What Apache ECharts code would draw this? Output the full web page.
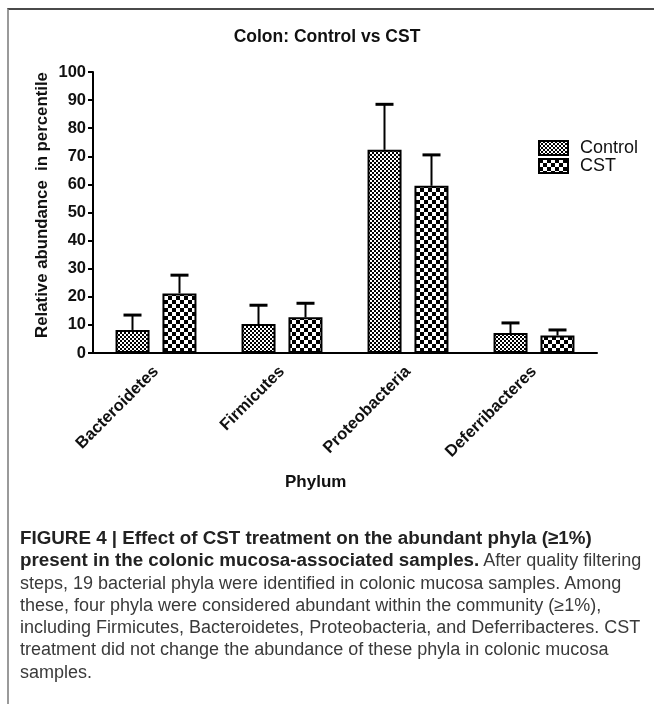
<!DOCTYPE html>
<html>
<head>
<meta charset="utf-8">
<script src="https://cdn.jsdelivr.net/npm/echarts@6/dist/echarts.min.js"></script>
<style>
  html, body { margin: 0; padding: 0; background: #fff; }
  #wrap { position: relative; width: 654px; height: 704px; overflow: hidden; }
  #chart { position: absolute; left: 0; top: 0; width: 654px; height: 704px; }
  #frame { position: absolute; left: 7px; top: 8px; right: 0; bottom: 0;
           border-top: 2px solid #4a4a4a; border-left: 2px solid #9a9a9a; }
  #caption { position: absolute; left: 20px; top: 527px; width: 634px;
             font-family: "Liberation Sans", Arial, sans-serif; font-size: 18px;
             line-height: 22.3px; color: #3a3a3a; white-space: nowrap; }
  #caption b { color: #222; font-size: 18.8px; }
</style>
</head>
<body>
<div id="wrap">
  <div id="frame"></div>
  <div id="chart"></div>
  <div id="caption">
    <b>FIGURE 4 | Effect of CST treatment on the abundant phyla (≥1%)</b><br>
    <b>present in the colonic mucosa-associated samples.</b> After quality filtering<br>
    steps, 19 bacterial phyla were identified in colonic mucosa samples. Among<br>
    these, four phyla were considered abundant within the community (≥1%),<br>
    including Firmicutes, Bacteroidetes, Proteobacteria, and Deferribacteres. CST<br>
    treatment did not change the abundance of these phyla in colonic mucosa<br>
    samples.
  </div>
</div>
<script>
const categories = ['Bacteroidetes', 'Firmicutes', 'Proteobacteria', 'Deferribacteres'];
const controlMean = [8.2, 10.3, 72.3, 7.1];
const controlErr = [5.3, 6.7, 16.2, 3.6];
const cstMean = [21.2, 12.7, 59.5, 6.2];
const cstErr = [6.5, 5.0, 11.0, 2.0];

const font = '"Liberation Sans", Arial, sans-serif';

// checkerboard fills, small squares for Control, bigger for CST
function checker(cell) {
  const c = document.createElement('canvas');
  c.width = cell * 2;
  c.height = cell * 2;
  const ctx = c.getContext('2d');
  ctx.fillStyle = '#fff';
  ctx.fillRect(0, 0, cell * 2, cell * 2);
  ctx.fillStyle = '#000';
  ctx.fillRect(0, 0, cell, cell);
  ctx.fillRect(cell, cell, cell, cell);
  return c;
}
const controlFill = { image: checker(2), repeat: 'repeat' };
const cstFill = { image: checker(4), repeat: 'repeat' };

function errData(mean, err) {
  return mean.map((v, i) => [i, v, err[i]]);
}

function errorBars(offset) {
  return function (params, api) {
    const base = api.coord([api.value(0), api.value(1)]);
    const top = api.coord([api.value(0), api.value(1) + api.value(2)]);
    const x = base[0] + offset;
    return {
      type: 'group',
      children: [
        { type: 'line', shape: { x1: x, y1: base[1], x2: x, y2: top[1] },
          style: { stroke: '#000', lineWidth: 2 } },
        { type: 'line', shape: { x1: x - 9, y1: top[1], x2: x + 9, y2: top[1] },
          style: { stroke: '#000', lineWidth: 3 } }
      ]
    };
  };
}

const chart = echarts.init(document.getElementById('chart'));
chart.setOption({
  animation: false,
  title: {
    text: 'Colon: Control vs CST',
    left: 'center',
    top: 23,
    textStyle: { fontFamily: font, fontSize: 17.5, fontWeight: 'bold', color: '#111' }
  },
  legend: {
    data: ['Control', 'CST'],
    orient: 'vertical',
    left: 538,
    top: 139,
    padding: 0,
    itemGap: 0,
    itemWidth: 29,
    itemHeight: 14,
    icon: 'rect',
    textStyle: { fontFamily: font, fontSize: 18, color: '#111', padding: [0, 0, 0, 7] }
  },
  grid: { left: 93, right: 57, top: 72, bottom: 351 },
  xAxis: {
    type: 'category',
    data: categories,
    axisLine: { lineStyle: { color: '#000', width: 2 } },
    axisTick: { alignWithLabel: true, length: 5, lineStyle: { color: '#000', width: 2 } },
    axisLabel: {
      rotate: 45,
      margin: 16,
      fontFamily: font,
      fontSize: 16.5,
      fontWeight: 'bold',
      color: '#111'
    }
  },
  yAxis: {
    type: 'value',
    min: 0,
    max: 100,
    interval: 10,
    axisLine: { show: true, lineStyle: { color: '#000', width: 2 } },
    axisTick: { show: true, length: 5, lineStyle: { color: '#000', width: 2 } },
    axisLabel: { margin: 7, fontFamily: font, fontSize: 16.5, fontWeight: 'bold', color: '#111' },
    splitLine: { show: false }
  },
  graphic: [
    {
      type: 'text',
      x: 42,
      y: 205,
      rotation: Math.PI / 2,
      style: {
        text: 'Relative abundance  in percentile',
        align: 'center',
        verticalAlign: 'middle',
        fontFamily: font, fontSize: 16.8, fontWeight: 'bold', fill: '#111'
      }
    },
    {
      type: 'text',
      left: 285,
      top: 474,
      style: { text: 'Phylum', fontFamily: font, fontSize: 17, fontWeight: 'bold', fill: '#111' }
    }
  ],
  series: [
    {
      name: 'Control',
      type: 'bar',
      data: controlMean,
      barWidth: 34,
      barGap: '38%',
      itemStyle: { color: controlFill, borderColor: '#000', borderWidth: 2 }
    },
    {
      name: 'CST',
      type: 'bar',
      data: cstMean,
      barWidth: 34,
      barGap: '38%',
      itemStyle: { color: cstFill, borderColor: '#000', borderWidth: 2 }
    },
    {
      type: 'custom',
      data: errData(controlMean, controlErr),
      encode: { x: 0, y: 1 },
      renderItem: errorBars(-23.5),
      z: 1
    },
    {
      type: 'custom',
      data: errData(cstMean, cstErr),
      encode: { x: 0, y: 1 },
      renderItem: errorBars(23.5),
      z: 1
    }
  ]
});
</script>
</body>
</html>
